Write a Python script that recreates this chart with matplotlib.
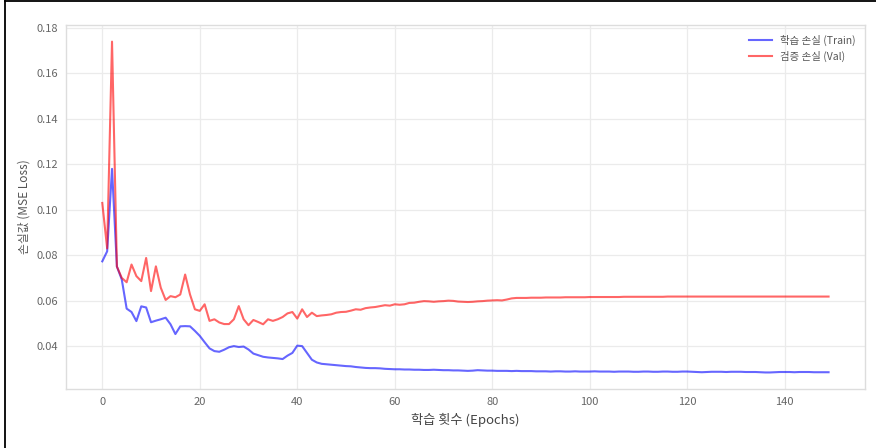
import matplotlib.pyplot as plt
from matplotlib.lines import Line2D

plt.rcParams['font.family'] = ['Noto Sans CJK KR', 'DejaVu Sans']
plt.rcParams['axes.unicode_minus'] = False

# 학습/검증 손실
train_loss = [
    0.0773, 0.0817, 0.1180, 0.0750, 0.0693, 0.0565, 0.0550, 0.0510, 0.0575, 0.0570,
    0.0505, 0.0512, 0.0518, 0.0525, 0.0496, 0.0453, 0.0487, 0.0488, 0.0487, 0.0467,
    0.0445, 0.0417, 0.0390, 0.0378, 0.0375, 0.0384, 0.0395, 0.0400, 0.0396, 0.0398,
    0.0385, 0.0367, 0.0360, 0.0353, 0.0350, 0.0348, 0.0346, 0.0343, 0.0358, 0.0370,
    0.0402, 0.0400, 0.0370, 0.0340, 0.0328, 0.0322, 0.0320, 0.0318, 0.0316, 0.0314,
    0.0312, 0.0311, 0.0308, 0.0306, 0.0304, 0.0303, 0.0303, 0.0302, 0.0300, 0.0299,
    0.0298, 0.0298, 0.0297, 0.0297, 0.0296, 0.0296, 0.0295, 0.0295, 0.0296, 0.0295,
    0.0294, 0.0294, 0.0293, 0.0293, 0.0292, 0.0291, 0.0292, 0.0294, 0.0293, 0.0292,
    0.0292, 0.0291, 0.0291, 0.0291, 0.0290, 0.0291, 0.0290, 0.0290, 0.0290, 0.0289,
    0.0289, 0.0289, 0.0288, 0.0289, 0.0289, 0.0288, 0.0288, 0.0289, 0.0288, 0.0288,
    0.0288, 0.0289, 0.0288, 0.0288, 0.0288, 0.0287, 0.0288, 0.0288, 0.0288, 0.0287,
    0.0287, 0.0288, 0.0288, 0.0287, 0.0287, 0.0288, 0.0288, 0.0287, 0.0287, 0.0288,
    0.0288, 0.0287, 0.0286, 0.0285, 0.0286, 0.0287, 0.0287, 0.0287, 0.0286, 0.0287,
    0.0287, 0.0287, 0.0286, 0.0286, 0.0286, 0.0285, 0.0284, 0.0284, 0.0285, 0.0286,
    0.0286, 0.0286, 0.0285, 0.0286, 0.0286, 0.0286, 0.0285, 0.0285, 0.0285, 0.0285,
]
val_loss = [
    0.1030, 0.0830, 0.1740, 0.0750, 0.0700, 0.0681, 0.0759, 0.0708, 0.0686, 0.0788,
    0.0642, 0.0751, 0.0657, 0.0603, 0.0620, 0.0615, 0.0627, 0.0715, 0.0627, 0.0562,
    0.0555, 0.0584, 0.0511, 0.0518, 0.0504, 0.0497, 0.0497, 0.0518, 0.0576, 0.0518,
    0.0492, 0.0515, 0.0506, 0.0496, 0.0518, 0.0511, 0.0518, 0.0528, 0.0544, 0.0550,
    0.0521, 0.0562, 0.0528, 0.0547, 0.0532, 0.0535, 0.0537, 0.0540, 0.0547, 0.0550,
    0.0551, 0.0556, 0.0562, 0.0560, 0.0567, 0.0570, 0.0572, 0.0576, 0.0580, 0.0578,
    0.0584, 0.0582, 0.0584, 0.0590, 0.0591, 0.0595, 0.0598, 0.0597, 0.0595, 0.0597,
    0.0598, 0.0600, 0.0599, 0.0596, 0.0595, 0.0594, 0.0595, 0.0597, 0.0598, 0.0600,
    0.0601, 0.0602, 0.0601, 0.0605, 0.0610, 0.0612, 0.0612, 0.0612, 0.0613, 0.0613,
    0.0613, 0.0614, 0.0614, 0.0614, 0.0614, 0.0615, 0.0615, 0.0615, 0.0615, 0.0615,
    0.0616, 0.0616, 0.0616, 0.0616, 0.0616, 0.0616, 0.0616, 0.0617, 0.0617, 0.0617,
    0.0617, 0.0617, 0.0617, 0.0617, 0.0617, 0.0617, 0.0618, 0.0618, 0.0618, 0.0618,
    0.0618, 0.0618, 0.0618, 0.0618, 0.0618, 0.0618, 0.0618, 0.0618, 0.0618, 0.0618,
    0.0618, 0.0618, 0.0618, 0.0618, 0.0618, 0.0618, 0.0618, 0.0618, 0.0618, 0.0618,
    0.0618, 0.0618, 0.0618, 0.0618, 0.0618, 0.0618, 0.0618, 0.0618, 0.0618, 0.0618,
]
epochs = list(range(len(train_loss)))

fig = plt.figure(figsize=(8.76, 4.48), dpi=100)
ax = fig.add_axes([0.0753, 0.1317, 0.912, 0.8123])

ax.plot(epochs, train_loss, color='blue', alpha=0.6, linewidth=1.5, label='학습 손실 (Train)')
ax.plot(epochs, val_loss, color='red', alpha=0.6, linewidth=1.5, label='검증 손실 (Val)')

ax.set_xlabel('학습 횟수 (Epochs)', fontsize=9.5, color='#444444')
ax.set_ylabel('손실값 (MSE Loss)', fontsize=8.5, color='#555555')
ax.set_xticks([0, 20, 40, 60, 80, 100, 120, 140])
ax.set_yticks([0.04, 0.06, 0.08, 0.10, 0.12, 0.14, 0.16, 0.18])
ax.set_yticklabels(['0.04', '0.06', '0.08', '0.10', '0.12', '0.14', '0.16', '0.18'])
ax.tick_params(labelsize=8, colors='#666666', length=0, pad=6)
ax.grid(True, color='#ebebeb', linewidth=0.9)
for s in ax.spines.values():
    s.set_color('#dddddd')
    s.set_linewidth(1.0)
leg = ax.legend(loc='upper right', frameon=False, fontsize=7.5, handlelength=2.2)
for t in leg.get_texts():
    t.set_color('#555555')

# 스크린샷 테두리
fig.add_artist(Line2D([0.0055, 0.0055], [0, 0.997], transform=fig.transFigure, color='black', linewidth=1.3))
fig.add_artist(Line2D([0.0055, 1], [0.997, 0.997], transform=fig.transFigure, color='black', linewidth=1.3))

fig.savefig('out.png', dpi=100)
